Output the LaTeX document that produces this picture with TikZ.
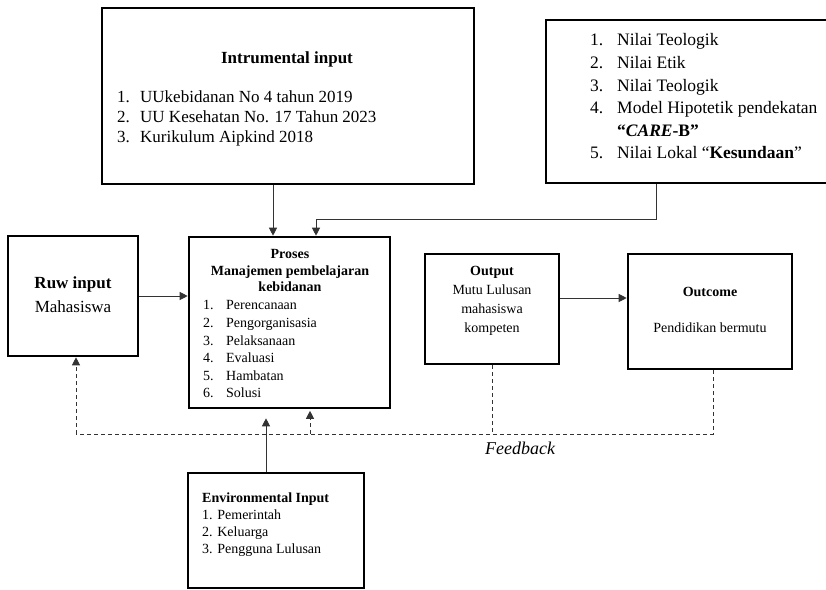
\documentclass[tikz,border=0pt]{standalone}
\usepackage{fontspec}
\setmainfont{Liberation Serif}
\usetikzlibrary{arrows.meta}

\newcommand{\nitem}[2][23pt]{\makebox[#1][l]{#2}}

\begin{document}
\begin{tikzpicture}[x=1pt, y=-1pt,
        box/.style={draw, line width=2.6pt, inner sep=0pt},
        conn/.style={draw=black!80, line width=0.9pt, -{Triangle[length=8pt,width=8pt]}},
        fb/.style={draw=black!80, line width=0.9pt, dash pattern=on 4pt off 3pt},
        txt/.style={inner sep=0pt}]
        \useasboundingbox (0,0) rectangle (826,589);

        % boxes
        \node[box, minimum width=372pt, minimum height=176pt] (instr) at (288,96) {};
        \node[box, minimum width=354pt, minimum height=163pt] (nilai) at (723,101.5) {};
        \node[box, minimum width=130pt, minimum height=120pt] (ruw) at (73,296) {};
        \node[box, minimum width=201pt, minimum height=171pt] (proses) at (289.5,322.5) {};
        \node[box, minimum width=134pt, minimum height=110pt] (output) at (492,309) {};
        \node[box, minimum width=164pt, minimum height=115pt] (outcome) at (710,311.5) {};
        \node[box, minimum width=176pt, minimum height=115pt] (env) at (276,530.5) {};

        % texts
        \node[txt, anchor=north, font=\bfseries\fontsize{17}{20}\selectfont] (instrT) at (287,52) {Intrumental input};
        \node[txt, anchor=north west, align=left, font=\fontsize{17}{20}\selectfont] (instrL) at (117,90.5)
            {\nitem{1.}UUkebidanan No 4 tahun 2019\\ \nitem{2.}UU Kesehatan No. 17 Tahun 2023\\ \nitem{3.}Kurikulum Aipkind 2018};
        \node[txt, anchor=north west, align=left, font=\fontsize{17.5}{22.6}\selectfont] (nilaiL) at (590,33.5)
            {\nitem[27pt]{1.}Nilai Teologik\\ \nitem[27pt]{2.}Nilai Etik\\ \nitem[27pt]{3.}Nilai Teologik\\
             \nitem[27pt]{4.}Model Hipotetik pendekatan\\ \nitem[27pt]{}\textbf{“\textit{CARE}-B”}\\
             \nitem[27pt]{5.}Nilai Lokal “\textbf{Kesundaan}”};
        \node[txt, anchor=north, align=center, font=\fontsize{17}{24}\selectfont] (ruwT) at (73,276.5)
            {\textbf{Ruw input}\\ Mahasiswa};
        \node[txt, anchor=north, align=center, font=\bfseries\fontsize{14}{16.5}\selectfont] (prosesT) at (290,249.5)
            {Proses\\ Manajemen pembelajaran\\ kebidanan};
        \node[txt, anchor=north west, align=left, font=\fontsize{14}{17.6}\selectfont] (prosesL) at (203,300.5)
            {\nitem{1.}Perencanaan\\ \nitem{2.}Pengorganisasia\\ \nitem{3.}Pelaksanaan\\
             \nitem{4.}Evaluasi\\ \nitem{5.}Hambatan\\ \nitem{6.}Solusi};
        \node[txt, anchor=north, align=center, font=\fontsize{14}{18.7}\selectfont] (outputT) at (492,266.5)
            {\textbf{Output}\\ Mutu Lulusan\\ mahasiswa\\ kompeten};
        \node[txt, anchor=north, align=center, font=\fontsize{14}{18}\selectfont] (outcomeT) at (710,287.5)
            {\textbf{Outcome}\\[18pt] Pendidikan bermutu};
        \node[txt, anchor=north west, align=left, font=\fontsize{14}{17}\selectfont] (envL) at (202,492.5)
            {\textbf{Environmental Input}\\ 1. Pemerintah\\ 2. Keluarga\\ 3. Pengguna Lulusan};
        \node[txt, font=\itshape\fontsize{18}{20}\selectfont] (fbT) at (520,448) {Feedback};

        % connectors
        \coordinate (nilaiout) at (656,219);
        \coordinate (prosin) at (316,219);
        \coordinate (envup) at (266,440);
        \coordinate (fbL) at (76,434);
        \coordinate (fbP) at (310,434);
        \coordinate (fbR) at (713,434);

        \draw[conn] ([xshift=-15pt]instr.south) -- ([xshift=-15pt]instr.south |- proses.north);
        \draw[conn] (nilai.south -| nilaiout) -- (nilaiout) -- (prosin) -- (proses.north -| prosin);
        \draw[conn] (ruw.east) -- (ruw.east -| proses.west);
        \draw[conn] ([yshift=11pt]output.east) -- ([yshift=11pt]output.east -| outcome.west);
        \draw[conn, shorten >=9pt] (env.north -| envup) -- (proses.south -| envup);

        \begin{scope}[fb]
            \draw (outcome.south -| fbR) -- (fbR) -- (fbL);
            \draw[-{Triangle[length=8pt,width=8pt]}] (fbL) -- (ruw.south -| fbL);
            \draw (output.south) -- (output.south |- fbL);
            \draw[-{Triangle[length=8pt,width=8pt]}, shorten >=1.5pt] (fbP) -- (proses.south -| fbP);
        \end{scope}
    \end{tikzpicture}
\end{document}
